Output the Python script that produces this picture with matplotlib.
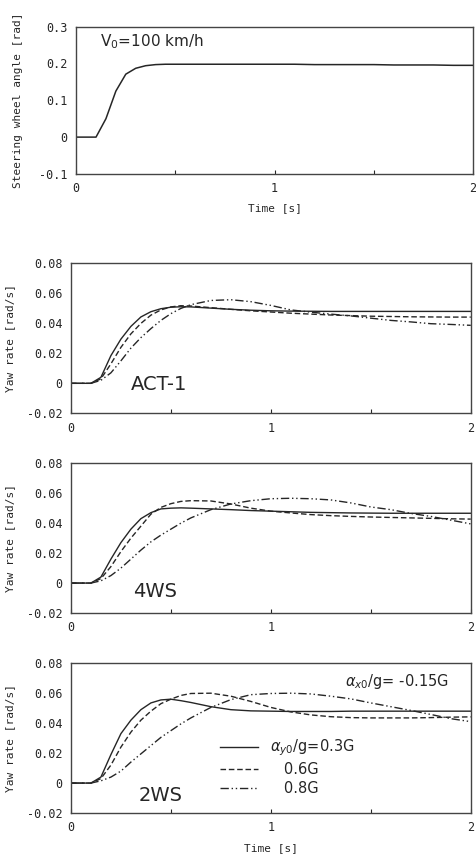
import numpy as np
import matplotlib
matplotlib.use('Agg')
import matplotlib.pyplot as plt
from matplotlib.lines import Line2D

# time grid [s]
t = [0, 0.1, 0.15, 0.2, 0.25, 0.3, 0.35, 0.4, 0.45, 0.5, 0.55, 0.6, 0.7,
     0.8, 0.9, 1.0, 1.1, 1.2, 1.3, 1.4, 1.5, 1.6, 1.7, 1.8, 1.9, 2.0]

# steering wheel angle [rad]
steer = [0, 0, 0.05, 0.125, 0.171, 0.187, 0.194, 0.197, 0.198, 0.198, 0.198, 0.198, 0.198,
         0.198, 0.198, 0.198, 0.198, 0.197, 0.197, 0.197, 0.197, 0.196, 0.196, 0.196, 0.195, 0.195]

# yaw rate [rad/s], ay0/g = 0.3G, 0.6G, 0.8G
act1_03 = [0, 0, 0.004, 0.0185, 0.0295, 0.038, 0.0443, 0.0478, 0.0498, 0.0508, 0.0511, 0.051, 0.0502,
           0.0494, 0.0488, 0.0484, 0.0482, 0.0481, 0.048, 0.048, 0.048, 0.048, 0.048, 0.048, 0.048, 0.048]
act1_06 = [0, 0, 0.003, 0.013, 0.024, 0.033, 0.040, 0.0455, 0.049, 0.051, 0.0518, 0.0516, 0.0505,
           0.0494, 0.0484, 0.0476, 0.0468, 0.0462, 0.0456, 0.0452, 0.0448, 0.0446, 0.0444, 0.0443, 0.0442, 0.0442]
act1_08 = [0, 0, 0.002, 0.007, 0.015, 0.0235, 0.0305, 0.0365, 0.042, 0.0465, 0.05, 0.0525, 0.0553,
           0.0558, 0.0545, 0.052, 0.049, 0.0475, 0.0462, 0.045, 0.0435, 0.042, 0.041, 0.0398, 0.0393, 0.0387]

ws4_03 = [0, 0, 0.004, 0.016, 0.027, 0.036, 0.043, 0.047, 0.0495, 0.050, 0.0502, 0.050, 0.0495,
          0.049, 0.0484, 0.048, 0.0476, 0.0472, 0.047, 0.0468, 0.0467, 0.0466, 0.0466, 0.0466, 0.0466, 0.0466]
ws4_06 = [0, 0, 0.003, 0.011, 0.021, 0.030, 0.038, 0.046, 0.0505, 0.053, 0.0545, 0.055, 0.0548,
          0.0528, 0.050, 0.048, 0.0468, 0.0457, 0.045, 0.0445, 0.0441, 0.0438, 0.0435, 0.0432, 0.0429, 0.0427]
ws4_08 = [0, 0, 0.0015, 0.005, 0.010, 0.016, 0.022, 0.0275, 0.032, 0.036, 0.040, 0.0435, 0.049,
          0.0528, 0.055, 0.0563, 0.0566, 0.0563, 0.0555, 0.0535, 0.0508, 0.049, 0.0465, 0.0445, 0.042, 0.0395]

ws2_03 = [0, 0, 0.004, 0.019, 0.033, 0.042, 0.049, 0.0535, 0.0555, 0.056, 0.055, 0.0538, 0.051,
          0.049, 0.0482, 0.048, 0.0478, 0.0478, 0.0478, 0.048, 0.048, 0.048, 0.048, 0.048, 0.048, 0.048]
ws2_06 = [0, 0, 0.003, 0.012, 0.024, 0.034, 0.042, 0.048, 0.053, 0.056, 0.0585, 0.0598, 0.060,
          0.058, 0.0545, 0.0505, 0.0475, 0.0455, 0.0443, 0.0437, 0.0435, 0.0435, 0.0435, 0.0437, 0.044, 0.0442]
ws2_08 = [0, 0, 0.0015, 0.004, 0.008, 0.014, 0.0195, 0.025, 0.0305, 0.035, 0.0395, 0.0435, 0.0505,
          0.0557, 0.059, 0.0598, 0.060, 0.0595, 0.058, 0.0562, 0.0535, 0.051, 0.0485, 0.0458, 0.043, 0.041]

panels = [("ACT-1", act1_03, act1_06, act1_08, (0.30, -0.001)),
          ("4WS", ws4_03, ws4_06, ws4_08, (0.31, -0.0055)),
          ("2WS", ws2_03, ws2_06, ws2_08, (0.34, -0.008))]

labels = [r"$\alpha_{y0}$/g=0.3G", "   0.6G", "   0.8G"]
styles = ['-', (0, (4, 2)), (0, (6, 2, 1, 2, 1, 2))]

ink = '#262626'
mono = 'DejaVu Sans Mono'

fig = plt.figure(figsize=(4.76, 8.61), dpi=100)


def style_axes(ax, yticks, ylabels, ylab, xlab):
    ax.set_xlim(0, 2)
    ax.set_xticks([0, 0.5, 1, 1.5, 2])
    ax.set_xticklabels(["0", "", "1", "", "2"], family=mono, fontsize=8.5, color=ink)
    ax.set_yticks(yticks)
    ax.set_yticklabels(ylabels, family=mono, fontsize=8.5, color=ink)
    ax.tick_params(axis='x', direction='in', length=3, color=ink, pad=6)
    ax.tick_params(axis='y', length=0, pad=6)
    ax.set_ylabel(ylab, family=mono, fontsize=8, color=ink)
    ax.yaxis.set_label_coords(-0.14, 0.5)
    if xlab:
        ax.set_xlabel("Time [s]", family=mono, fontsize=8, color=ink, labelpad=6)
    for s in ax.spines.values():
        s.set_color('#444444')
        s.set_linewidth(1.0)


# steering wheel input
ax0 = fig.add_axes([0.160, 0.798, 0.834, 0.171])
ax0.plot(t, steer, color=ink, lw=1.1)
ax0.set_ylim(-0.1, 0.3)
style_axes(ax0, [-0.1, 0, 0.1, 0.2, 0.3], ["-0.1", "0", "0.1", "0.2", "0.3"],
           "Steering wheel angle [rad]", True)
ax0.yaxis.set_label_coords(-0.135, 0.5)
ax0.text(0.12, 0.26, "V$_0$=100 km/h", fontsize=11, color=ink, va='center')

bottoms = [0.520, 0.288, 0.0557]
for i, (name, y03, y06, y08, pos) in enumerate(panels):
    ax = fig.add_axes([0.149, bottoms[i], 0.840, 0.174])
    for ys, ls in zip([y03, y06, y08], styles):
        ax.plot(t, ys, color=ink, lw=1.0, ls=ls)
    ax.set_ylim(-0.02, 0.08)
    style_axes(ax, [-0.02, 0, 0.02, 0.04, 0.06, 0.08],
               ["-0.02", "0", "0.02", "0.04", "0.06", "0.08"],
               "Yaw rate [rad/s]", i == 2)
    ax.text(pos[0], pos[1], name, fontsize=14, color=ink, va='center')
    if i == 2:
        ax.text(1.37, 0.068, r"$\alpha_{x0}$/g= -0.15G", fontsize=10.5, color=ink, va='center')
        handles = [Line2D([], [], color=ink, lw=1.0, ls=ls) for ls in styles]
        ax.legend(handles, labels, loc='upper left', bbox_to_anchor=(0.34, 0.59),
                  frameon=False, fontsize=10.5, handlelength=2.6, labelspacing=0.25,
                  handletextpad=0.8, labelcolor=ink)

fig.savefig("out.png", dpi=100)
